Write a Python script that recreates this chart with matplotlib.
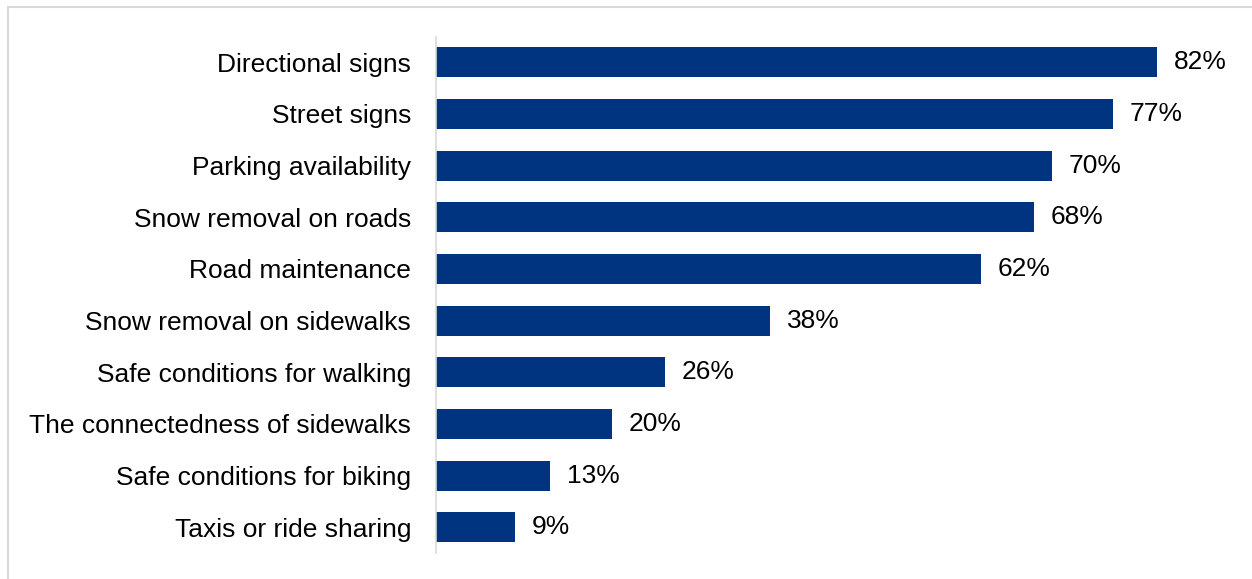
import matplotlib.pyplot as plt
from matplotlib.patches import Rectangle

categories = [
    'Directional signs',
    'Street signs',
    'Parking availability',
    'Snow removal on roads',
    'Road maintenance',
    'Snow removal on sidewalks',
    'Safe conditions for walking',
    'The connectedness of sidewalks',
    'Safe conditions for biking',
    'Taxis or ride sharing',
]
values = [82, 77, 70, 68, 62, 38, 26, 20, 13, 9]

plt.rcParams['font.family'] = ['Liberation Sans', 'DejaVu Sans']

fig = plt.figure(figsize=(12.52, 5.79), dpi=100)
# light frame around the chart area
fig.patches.append(Rectangle((8 / 1252, -0.1), 1.2, 1 - 7 / 579 + 0.1,
                             transform=fig.transFigure, fill=False,
                             edgecolor='#d9d9d9', linewidth=1.5))

ax = fig.add_axes([436 / 1252, 1 - 553 / 579, (1240 - 436) / 1252, (553 - 36.5) / 579])
y = list(range(len(categories)))
ax.barh(y, values, height=0.58, color='#003380')
ax.set_ylim(len(categories) - 0.5, -0.5)
ax.set_xlim(0, 91.4)
ax.set_yticks(y)
ax.set_yticklabels(categories, fontsize=19)
ax.tick_params(axis='y', length=0, pad=18)
ax.set_xticks([])
for s in ['top', 'right', 'bottom']:
    ax.spines[s].set_visible(False)
ax.spines['left'].set_color('#d9d9d9')
ax.spines['left'].set_linewidth(1.2)

for yi, v in zip(y, values):
    ax.annotate(f'{v}%', (v, yi), xytext=(12, 0), textcoords='offset points',
                va='center', ha='left', fontsize=19)

fig.savefig('out.png', dpi=100)
